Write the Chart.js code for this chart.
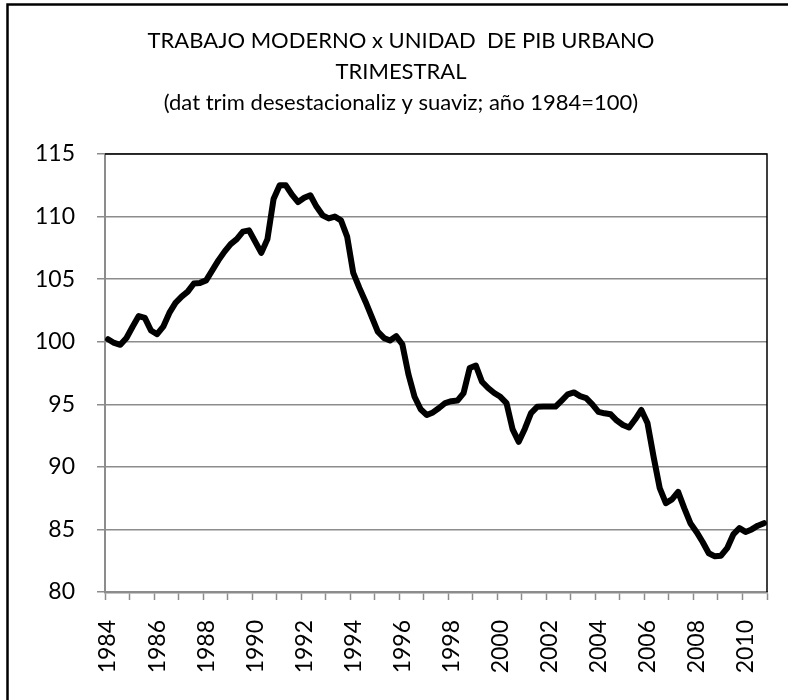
<!DOCTYPE html>
<html>
<head>
<meta charset="utf-8">
<script src="https://cdn.jsdelivr.net/npm/chart.js@4/dist/chart.umd.min.js"></script>
<style>
  body { margin: 0; background: #fff; }
  canvas { display: block; }
</style>
</head>
<body>
<canvas id="myChart" width="788" height="700"></canvas>
<script>
// First year of the series, data is quarterly
const startYear = 1984;

// Title lines
const titleLines = [
    'TRABAJO MODERNO x UNIDAD  DE PIB URBANO',
    'TRIMESTRAL',
    '(dat trim desestacionaliz y suaviz; año 1984=100)'
];

// Index values, one per quarter 1984T1 - 2010T4
const indexValues = [
    100.2, 99.9, 99.75, 100.3, 101.2, 102.05, 101.9, 100.9,      // 1984-85
    100.6, 101.2, 102.3, 103.1, 103.6, 104.0, 104.65, 104.7,     // 1986-87
    104.9, 105.7, 106.5, 107.2, 107.8, 108.2, 108.8, 108.9,      // 1988-89
    108.0, 107.1, 108.2, 111.4, 112.5, 112.5, 111.75, 111.15,    // 1990-91
    111.5, 111.7, 110.8, 110.1, 109.85, 110.0, 109.7, 108.4,     // 1992-93
    105.5, 104.3, 103.2, 102.0, 100.8, 100.3, 100.1, 100.45,     // 1994-95
    99.8, 97.4, 95.6, 94.6, 94.15, 94.35, 94.7, 95.1,            // 1996-97
    95.25, 95.3, 95.9, 97.9, 98.1, 96.8, 96.3, 95.9,             // 1998-99
    95.6, 95.1, 93.0, 92.0, 93.05, 94.3, 94.8, 94.82,            // 2000-01
    94.82, 94.82, 95.3, 95.8, 95.95, 95.65, 95.5, 95.0,          // 2002-03
    94.4, 94.28, 94.2, 93.7, 93.35, 93.15, 93.8, 94.55,          // 2004-05
    93.5, 90.8, 88.3, 87.1, 87.4, 88.0, 86.7, 85.5,              // 2006-07
    84.8, 84.0, 83.1, 82.85, 82.9, 83.5, 84.6, 85.1,             // 2008-09
    84.8, 85.0, 85.3, 85.5                                       // 2010
];

// y axis range
const yMin = 80;
const yMax = 115;
const yStep = 5;

// quarter labels, the axis only shows the first quarter of even years
const quarterLabels = indexValues.map((v, i) => String(startYear + Math.floor(i / 4)));

const fontName = "Lato, 'Open Sans', sans-serif";
const gridGrey = '#8c8c8c';

// Draws the outer frame and the black top/right edges of the plot area
const frames = {
    id: 'frames',
    afterDraw(chart) {
        const c = chart.ctx;
        const a = chart.chartArea;
        c.save();
        c.strokeStyle = '#000';
        c.lineWidth = 1.5;
        c.beginPath();
        c.moveTo(a.left, a.top);
        c.lineTo(a.right, a.top);
        c.lineTo(a.right, a.bottom);
        c.stroke();
        c.lineWidth = 2.5;
        c.beginPath();
        c.moveTo(7.5, chart.height + 5);
        c.lineTo(7.5, 4.5);
        c.lineTo(chart.width + 5, 4.5);
        c.stroke();
        c.restore();
    }
};

Chart.defaults.font.family = fontName;
Chart.defaults.color = '#000';

const ctx = document.getElementById('myChart').getContext('2d');

new Chart(ctx, {
    type: 'line',
    data: {
        labels: quarterLabels,
        datasets: [{
            data: indexValues,
            borderColor: '#000',
            borderWidth: 6,
            borderJoinStyle: 'round',
            borderCapStyle: 'round',
            pointRadius: 0,
            tension: 0,
            fill: false
        }]
    },
    options: {
        responsive: false,
        animation: false,
        layout: {
            padding: { left: 35, right: 21, top: 0, bottom: 27 }
        },
        plugins: {
            legend: { display: false },
            tooltip: { enabled: false },
            title: {
                display: true,
                text: titleLines,
                color: '#000',
                font: { size: 22, weight: 'normal', lineHeight: 31 / 22 },
                padding: { top: 25, bottom: 36 }
            }
        },
        scales: {
            x: {
                type: 'category',
                offset: true,
                grid: {
                    offset: true,
                    drawOnChartArea: false,
                    drawTicks: true,
                    tickLength: 8,
                    tickWidth: 1.5,
                    tickColor: (c) => (c.index === undefined || c.index % 4 === 0) ? gridGrey : 'rgba(0,0,0,0)'
                },
                border: { color: gridGrey, width: 2.5 },
                ticks: {
                    autoSkip: false,
                    maxRotation: 90,
                    minRotation: 90,
                    padding: 20,
                    font: { size: 23 },
                    callback: function (value, index) {
                        return index % 8 === 0 ? this.getLabelForValue(value) : '';
                    }
                },
                afterFit: (scale) => {
                    scale.height = 81;
                    scale.paddingLeft = 0;
                    scale.paddingRight = 0;
                }
            },
            y: {
                min: yMin,
                max: yMax,
                grid: {
                    color: gridGrey,
                    lineWidth: 1.5,
                    tickLength: 8
                },
                border: { color: gridGrey, width: 2 },
                ticks: {
                    stepSize: yStep,
                    padding: 22,
                    font: { size: 23 }
                },
                afterFit: (scale) => {
                    scale.width = 70;
                    scale.paddingTop = 0;
                    scale.paddingBottom = 0;
                }
            }
        }
    },
    plugins: [frames]
});
</script>
</body>
</html>
